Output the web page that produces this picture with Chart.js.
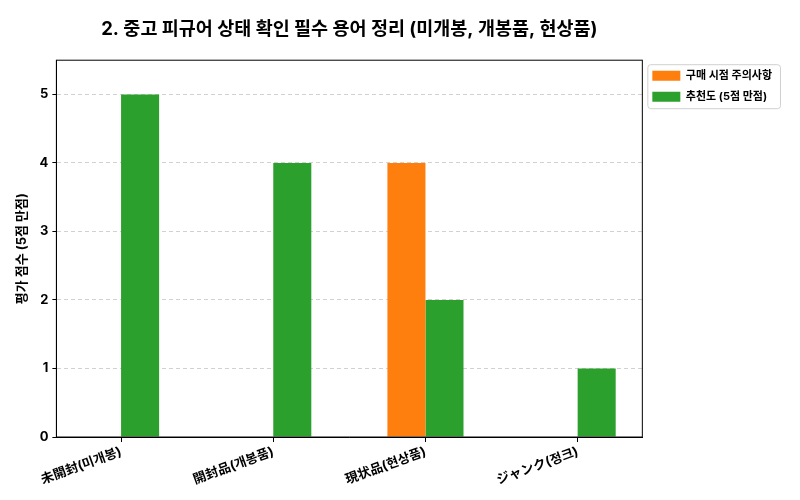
<!DOCTYPE html>
<html>
<head>
<meta charset="utf-8">
<script src="https://cdn.jsdelivr.net/npm/chart.js@4/dist/chart.umd.min.js"></script>
<style>
  body { margin: 0; background: #fff; }
  #wrap { width: 800px; height: 500px; }
</style>
</head>
<body>
<div id="wrap"><canvas id="termChart" width="800" height="500"></canvas></div>
<script>
const categories = ['未開封(미개봉)', '開封品(개봉품)', '現状品(현상품)', 'ジャンク(정크)'];
const cautionScores = [0, 0, 4, 0];
const recommendScores = [5, 4, 2, 1];
const yTicks = [0, 1, 2, 3, 4, 5];

const FONT = "Inter, 'Noto Sans CJK KR', sans-serif";

// frame around plot + rounded box round the legend items
const framePlugin = {
  id: 'frame',
  afterDraw(chart) {
    const { ctx, chartArea: a, legend } = chart;
    ctx.save();
    ctx.strokeStyle = '#000';
    ctx.lineWidth = 1;
    ctx.strokeRect(a.left, a.top, a.right - a.left, a.bottom - a.top);
    if (legend && legend.legendHitBoxes.length) {
      const hb = legend.legendHitBoxes;
      const x0 = Math.min(...hb.map(h => h.left)) - 5;
      const y0 = Math.min(...hb.map(h => h.top)) - 6;
      const x1 = Math.max(...hb.map(h => h.left + h.width)) + 8;
      const y1 = Math.max(...hb.map(h => h.top + h.height)) + 6;
      ctx.strokeStyle = '#d0d0d0';
      ctx.beginPath();
      ctx.roundRect(x0 + 0.5, y0 + 0.5, x1 - x0, y1 - y0, 3);
      ctx.stroke();
    }
    ctx.restore();
  }
};

const ctx = document.getElementById('termChart').getContext('2d');
new Chart(ctx, {
  type: 'bar',
  data: {
    datasets: [
      {
        label: '구매 시점 주의사항',
        data: cautionScores.map((v, i) => ({ x: i, y: v })),
        backgroundColor: '#ff7f0e'
      },
      {
        label: '추천도 (5점 만점)',
        data: recommendScores.map((v, i) => ({ x: i, y: v })),
        backgroundColor: '#2ca02c'
      }
    ]
  },
  options: {
    responsive: false,
    animation: false,
    categoryPercentage: 0.5,
    barPercentage: 1.0,
    layout: { padding: { top: 18, right: 18, left: 10, bottom: 10 } },
    scales: {
      x: {
        type: 'linear',
        offset: false,
        min: -0.425,
        max: 3.425,
        afterBuildTicks: scale => { scale.ticks = categories.map((c, i) => ({ value: i })); },
        ticks: {
          callback: (v) => categories[v],
          minRotation: 20,
          maxRotation: 20,
          color: '#000',
          font: { family: FONT, size: 13, weight: 'bold' },
          padding: 2
        },
        grid: { display: true, offset: false, drawOnChartArea: false, tickLength: 5, tickColor: '#000' },
        border: { color: '#000' }
      },
      y: {
        min: 0,
        max: 5.5,
        afterBuildTicks: scale => { scale.ticks = yTicks.map(v => ({ value: v })); },
        ticks: {
          color: '#000',
          font: { family: FONT, size: 13, weight: 'bold' },
          padding: 4
        },
        grid: {
          color: 'rgba(0,0,0,0.18)',
          tickLength: 4,
          tickColor: '#000',
          tickBorderDash: []
        },
        border: { color: '#000', dash: [4, 3] },
        title: {
          display: true,
          text: '평가 점수 (5점 만점)',
          color: '#000',
          font: { family: FONT, size: 13, weight: 'bold' },
          padding: { bottom: 6 }
        }
      }
    },
    plugins: {
      title: {
        display: true,
        fullSize: false,
        text: '2. 중고 피규어 상태 확인 필수 용어 정리 (미개봉, 개봉품, 현상품)',
        color: '#000',
        font: { family: FONT, size: 18.5, weight: 'bold' },
        padding: { top: 0, bottom: 20 }
      },
      legend: {
        position: 'right',
        align: 'start',
        fullSize: false,
        labels: {
          boxWidth: 28,
          boxHeight: 10,
          padding: 10,
          color: '#000',
          font: { family: FONT, size: 11, weight: 'bold' }
        }
      },
      tooltip: { enabled: false }
    }
  },
  plugins: [framePlugin]
});
</script>
</body>
</html>
